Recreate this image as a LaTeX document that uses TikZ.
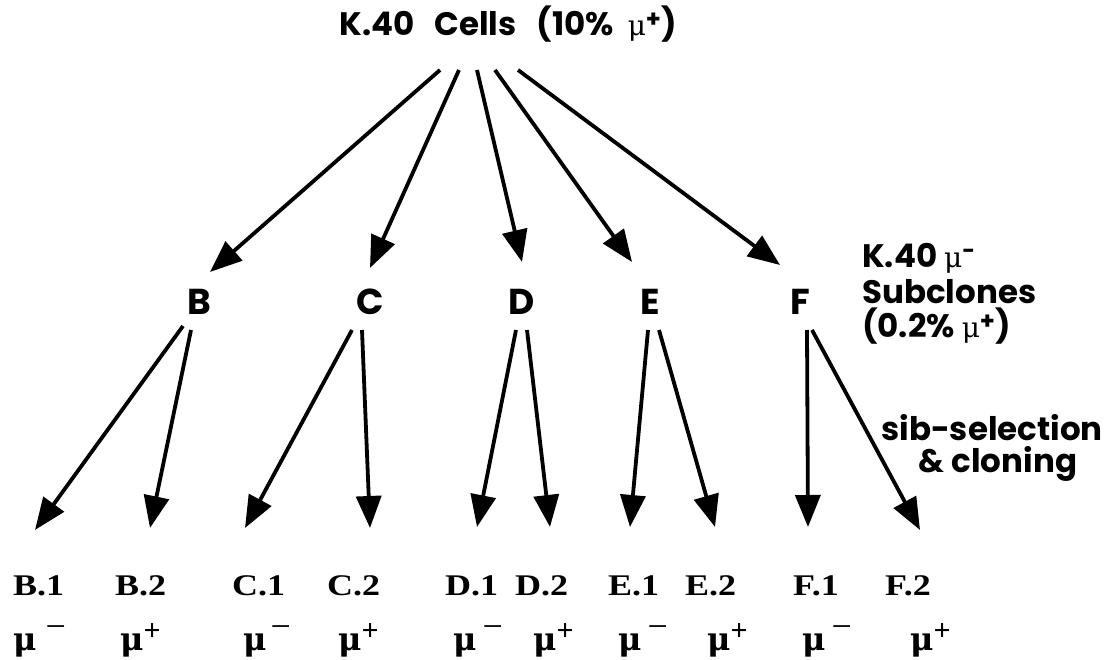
\documentclass[tikz,border=0pt]{standalone}
\usepackage{fontspec}
\setmainfont{Liberation Serif}
\newfontfamily\hd{Poppins}
\newfontfamily\mufont{DejaVu Serif}
\newfontfamily\minfont{Liberation Serif}
\newfontfamily\lab{Liberation Serif}[FakeStretch=1.2]
\usetikzlibrary{arrows.meta}
\newcommand{\hmu}{{\mufont\mdseries\fontsize{28}{28}\selectfont μ}}
\newcommand{\mneg}[1]{μ\hspace{#1}\raisebox{12pt}{\minfont\mdseries\fontsize{36}{36}\selectfont −}}
\newcommand{\mpos}{μ\raisebox{10pt}{\minfont\bfseries\fontsize{30}{30}\selectfont +}}
\begin{document}
\begin{tikzpicture}[x=1pt,y=-1pt,
  arr/.style={line width=3.8pt,-{Triangle[length=32pt,width=25pt]}},
  hdtext/.style={font=\hd\bfseries\fontsize{32.5}{35}\selectfont, inner sep=0pt, anchor=base},
  midtext/.style={font=\hd\bfseries\fontsize{36}{38}\selectfont, inner sep=0pt, anchor=base},
  clone/.style={font=\lab\bfseries\fontsize{30}{32}\selectfont, inner sep=0pt, anchor=base west},
  mu/.style={font=\mufont\bfseries\fontsize{32}{36}\selectfont, inner sep=0pt, anchor=base west}]
\useasboundingbox (0,0) rectangle (1108,660);
% top
\node[hdtext] (top) at (508,36) {K.40\hspace{20pt}Cells\hspace{20pt}(10\%\hspace{14pt}\hmu\raisebox{8pt}{\fontsize{24}{24}\selectfont +})};
% mid
\node[midtext] (B) at (199,315) {B};
\node[midtext] (C) at (370,315) {C};
\node[midtext] (D) at (522,315) {D};
\node[midtext] (E) at (650,315) {E};
\node[midtext] (F) at (800,315) {F};
\node[hdtext, anchor=base west] (sub1) at (862,268) {K.40 \hmu\raisebox{9pt}{\fontsize{22}{22}\selectfont -}};
\node[hdtext, anchor=base west] (sub2) at (862,303) {Subclones};
\node[hdtext, anchor=base west] (sub3) at (862,337) {(0.2\% \hmu\raisebox{8pt}{\fontsize{24}{24}\selectfont +})};
\node[hdtext] (sib1) at (992,440) {sib-selection};
\node[hdtext] (sib2) at (998,472) {\& cloning};
% arrow start/end coordinates
\coordinate (s1) at (440,70); \coordinate (s2) at (459,70); \coordinate (s3) at (477,70);
\coordinate (s4) at (495,70); \coordinate (s5) at (518,70);
\coordinate (tB) at (210,272); \coordinate (tC) at (370,268); \coordinate (tD) at (522,262);
\coordinate (tE) at (632,262); \coordinate (tF) at (780,265);
\draw[arr] (s1) -- (tB);
\draw[arr] (s2) -- (tC);
\draw[arr] (s3) -- (tD);
\draw[arr] (s4) -- (tE);
\draw[arr] (s5) -- (tF);
% bottom labels
\node[clone] (B1) at (13,595) {B.1};
\node[clone] (B2) at (115,595) {B.2};
\node[clone] (C1) at (232,595) {C.1};
\node[clone] (C2) at (327,595) {C.2};
\node[clone] (D1) at (445,595) {D.1};
\node[clone] (D2) at (515,595) {D.2};
\node[clone] (E1) at (608,595) {E.1};
\node[clone] (E2) at (685,595) {E.2};
\node[clone] (F1) at (793,595) {F.1};
\node[clone] (F2) at (885,595) {F.2};
\node[mu] (mB1) at (13,650) {\mneg{9pt}};
\node[mu] (mB2) at (120,650) {\mpos};
\node[mu] (mC1) at (243,650) {\mneg{4pt}};
\node[mu] (mC2) at (338,650) {\mpos};
\node[mu] (mD1) at (453,650) {\mneg{6pt}};
\node[mu] (mD2) at (533,650) {\mpos};
\node[mu] (mE1) at (618,650) {\mneg{6pt}};
\node[mu] (mE2) at (707,650) {\mpos};
\node[mu] (mF1) at (802,650) {\mneg{6pt}};
\node[mu] (mF2) at (910,650) {\mpos};
% second-level arrows
\coordinate (bl) at (183,326); \coordinate (br) at (191,330);
\coordinate (cl) at (352,330); \coordinate (cr) at (362,330);
\coordinate (dl) at (516,330); \coordinate (dr) at (527,330);
\coordinate (el) at (648,330); \coordinate (er) at (659,330);
\coordinate (fl) at (807,330); \coordinate (fr) at (812,330);
\coordinate (tB1) at (35,530); \coordinate (tB2) at (150,528);
\coordinate (tC1) at (245,528); \coordinate (tC2) at (370,528);
\coordinate (tD1) at (477,527); \coordinate (tD2) at (550,527);
\coordinate (tE1) at (630,527); \coordinate (tE2) at (715,527);
\coordinate (tF1) at (808,527); \coordinate (tF2) at (920,530);
\draw[arr] (bl) -- (tB1); \draw[arr] (br) -- (tB2);
\draw[arr] (cl) -- (tC1); \draw[arr] (cr) -- (tC2);
\draw[arr] (dl) -- (tD1); \draw[arr] (dr) -- (tD2);
\draw[arr] (el) -- (tE1); \draw[arr] (er) -- (tE2);
\draw[arr] (fl) -- (tF1); \draw[arr] (fr) -- (tF2);
\end{tikzpicture}
\end{document}
